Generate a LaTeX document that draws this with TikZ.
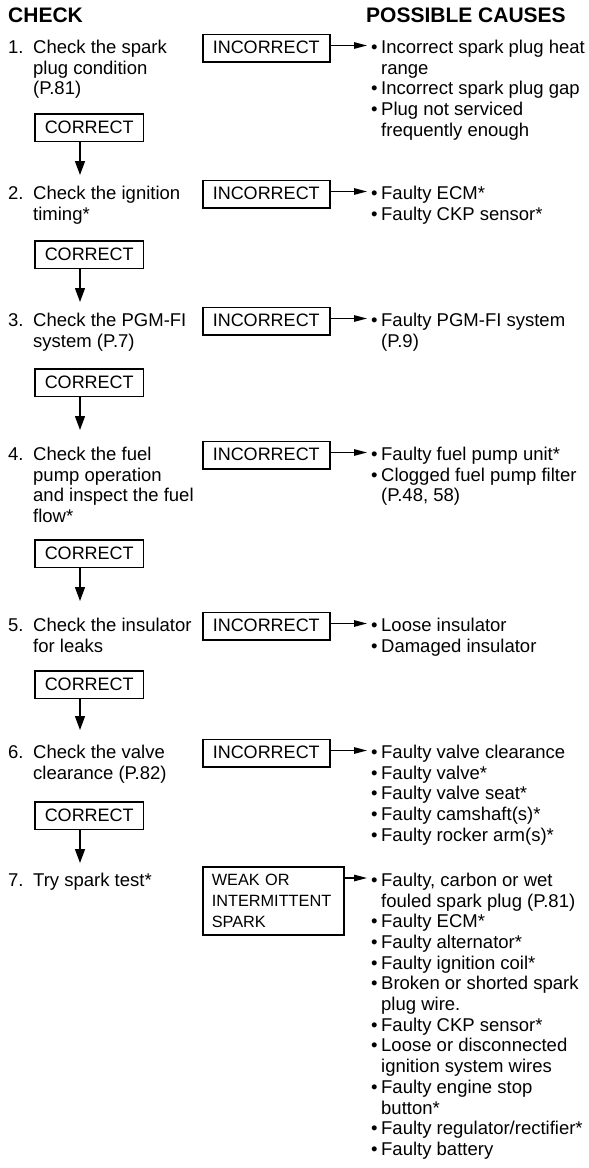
\documentclass[tikz,border=0pt]{standalone}
\usepackage{fontspec}
\setmainfont{Liberation Sans}
\usetikzlibrary{arrows.meta}

\newcommand{\bodyfont}{\fontsize{18.5}{20.7}\selectfont}
\newcommand{\boxfont}{\fontsize{18}{20.7}\selectfont}
\newcommand{\weakfont}{\fontsize{16.3}{21}\selectfont}
\newcommand{\headfont}{\fontsize{21}{25}\selectfont\bfseries}
\newcommand{\stepno}[1]{\makebox[25pt][l]{#1}}
\newcommand{\stepind}{\hspace*{25pt}}
\newcommand{\bul}{\makebox[10pt][l]{\textbullet}}
\newcommand{\bulind}{\hspace*{10pt}}

\begin{document}
\begin{tikzpicture}[x=1pt,y=-1pt,
		head/.style={anchor=base west,inner sep=0pt,font=\headfont},
		txt/.style={anchor=north west,inner sep=0pt,align=left,font=\bodyfont},
		cause/.style={anchor=north west,inner xsep=4pt,inner ysep=0pt,align=left,font=\bodyfont},
		res/.style={draw,line width=1.5pt,anchor=north west,inner xsep=10pt,inner ysep=6.5pt,text height=13pt,text depth=1.5pt,font=\boxfont},
		weak/.style={draw,line width=1.5pt,anchor=north west,text width=123pt,align=left,inner xsep=9pt,inner ysep=7.3pt,font=\weakfont},
		down/.style={line width=1.3pt,-{Triangle[length=14pt,width=10pt]}},
		side/.style={line width=1.3pt,-{Triangle[length=13pt,width=6.5pt]}}]
	\useasboundingbox (0,0) rectangle (589,1168);
	\node[head] (hcheck) at (8,22) {CHECK};
	\node[head] (hcause) at (366,22) {POSSIBLE CAUSES};

	% checks
	\node[txt] (st1) at (8,39.75) {\stepno{1.}Check the spark\\\stepind plug condition\\\stepind (P.81)};
	\node[txt] (st2) at (8,185.75) {\stepno{2.}Check the ignition\\\stepind timing*};
	\node[txt] (st3) at (8,312.75) {\stepno{3.}Check the PGM-FI\\\stepind system (P.7)};
	\node[txt] (st4) at (8,446.75) {\stepno{4.}Check the fuel\\\stepind pump operation\\\stepind and inspect the fuel\\\stepind flow*};
	\node[txt] (st5) at (8,617.75) {\stepno{5.}Check the insulator\\\stepind for leaks};
	\node[txt] (st6) at (8,744.75) {\stepno{6.}Check the valve\\\stepind clearance (P.82)};
	\node[txt] (st7) at (8,872.75) {\stepno{7.}Try spark test*};

	% causes
	\node[cause] (cs1) at (367,39.75) {\bul Incorrect spark plug heat\\\bulind range\\\bul Incorrect spark plug gap\\\bul Plug not serviced\\\bulind frequently enough};
	\node[cause] (cs2) at (367,185.75) {\bul Faulty ECM*\\\bul Faulty CKP sensor*};
	\node[cause] (cs3) at (367,312.75) {\bul Faulty PGM-FI system\\\bulind (P.9)};
	\node[cause] (cs4) at (367,446.75) {\bul Faulty fuel pump unit*\\\bul Clogged fuel pump filter\\\bulind (P.48, 58)};
	\node[cause] (cs5) at (367,617.75) {\bul Loose insulator\\\bul Damaged insulator};
	\node[cause] (cs6) at (367,744.75) {\bul Faulty valve clearance\\\bul Faulty valve*\\\bul Faulty valve seat*\\\bul Faulty camshaft(s)*\\\bul Faulty rocker arm(s)*};
	\node[cause] (cs7) at (367,872.75) {\bul Faulty, carbon or wet\\\bulind fouled spark plug (P.81)\\\bul Faulty ECM*\\\bul Faulty alternator*\\\bul Faulty ignition coil*\\\bul Broken or shorted spark\\\bulind plug wire.\\\bul Faulty CKP sensor*\\\bul Loose or disconnected\\\bulind ignition system wires\\\bul Faulty engine stop\\\bulind button*\\\bul Faulty regulator/rectifier*\\\bul Faulty battery};

	% result boxes
	\foreach \i/\b in {1/53,2/199,3/326,4/460,5/631,6/758}{
		\node[res] (bad\i) at (202,\b-19.5) {INCORRECT};
	}
	\node[weak] (bad7) at (202,866) {WEAK OR\\INTERMITTENT\\SPARK};

	\foreach \i/\c/\t in {1/113/175,2/240/302,3/368/430,4/539/601,5/670/730,6/801/863}{
		\node[res] (ok\i) at (34,\c) {CORRECT};
		\coordinate (tip\i) at (80,\t);
		\draw[down] (ok\i.south -| tip\i) -- (tip\i);
	}

	\foreach \i in {1,...,7}{
		\coordinate (a\i) at ([yshift=-12pt]bad\i.north east);
		\draw[side] (a\i) -- (a\i -| cs\i.west);
	}
\end{tikzpicture}
\end{document}
